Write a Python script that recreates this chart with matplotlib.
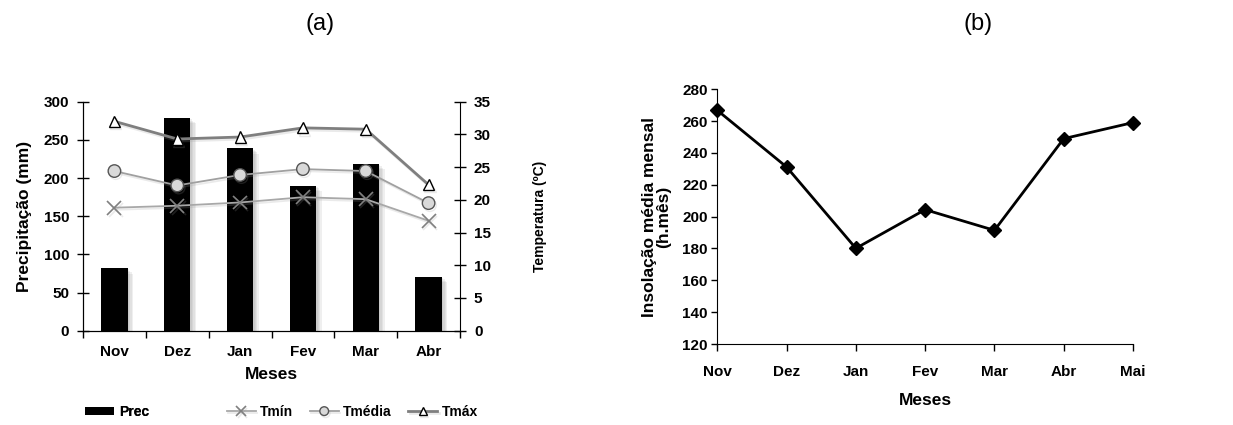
import matplotlib
matplotlib.use("Agg")
import matplotlib.pyplot as plt
import matplotlib.patheffects as pe
from matplotlib.patches import Patch
import numpy as np

plt.rcParams['font.family'] = ['Liberation Sans', 'DejaVu Sans']

# dados (a)
meses_a = ["Nov", "Dez", "Jan", "Fev", "Mar", "Abr"]
prec = [82, 279, 239, 190, 219, 71]
tmin = [18.8, 19.1, 19.6, 20.4, 20.1, 16.8]
tmedia = [24.4, 22.2, 23.8, 24.7, 24.4, 19.5]
tmax = [32.0, 29.3, 29.6, 31.0, 30.8, 22.3]

# dados (b)
meses_b = ["Nov", "Dez", "Jan", "Fev", "Mar", "Abr", "Mai"]
insolacao = [266.8, 231.2, 180.1, 204.4, 191.4, 249.0, 259.1]

W, H = 1233, 425
fig = plt.figure(figsize=(W / 100, H / 100), dpi=100)

tick_font = dict(fontsize=11, fontweight='bold')

# ---------- painel (a) ----------
ax = fig.add_axes([83 / W, 94.3 / H, 377 / W, 229 / H])
x = np.arange(len(meses_a))
# sombra suave: varias camadas deslocadas
bar_shadow = [pe.SimplePatchShadow(offset=(d, -d), shadow_rgbFace='0.5', alpha=0.12)
              for d in (4, 3, 2, 1)] + [pe.Normal()]
ax.bar(x, prec, width=0.42, color='black', zorder=2, path_effects=bar_shadow)
ax.set_xlim(-0.5, len(meses_a) - 0.5)
ax.set_ylim(0, 300)
ax.set_yticks(np.arange(0, 301, 50))
ax.set_xticks(np.arange(-0.5, len(meses_a), 1.0))
ax.set_xticklabels([])
ax.set_xticks(x, minor=True)
ax.set_xticklabels(meses_a, minor=True, **tick_font)
ax.tick_params(axis='x', which='major', direction='out', length=5, width=1)
ax.tick_params(axis='x', which='minor', length=0, pad=10)
ax.tick_params(axis='y', direction='inout', length=8, width=1, pad=6)
for lab in ax.get_yticklabels():
    lab.set_fontweight('bold')
    lab.set_fontsize(11)
ax.spines['top'].set_visible(False)
ax.spines['right'].set_visible(False)
ax.set_ylabel("Precipitação (mm)", fontsize=12.5, fontweight='bold', labelpad=8)
ax.set_xlabel("Meses", fontsize=12.5, fontweight='bold', labelpad=6)

ax2 = ax.twinx()
line_shadow = [pe.SimpleLineShadow(offset=(1, -1.5), shadow_color='0.6', alpha=0.2), pe.Normal()]
l_min, = ax2.plot(x, tmin, color='#a8a8a8', lw=1.3, marker='x', markersize=10,
                  markeredgecolor='#808080', markeredgewidth=1.2, path_effects=line_shadow)
l_med, = ax2.plot(x, tmedia, color='#a0a0a0', lw=1.3, marker='o', markersize=9,
                  markerfacecolor='#d9d9d9', markeredgecolor='#555555', path_effects=line_shadow)
l_max, = ax2.plot(x, tmax, color='#7f7f7f', lw=2, marker='^', markersize=8,
                  markerfacecolor='white', markeredgecolor='black', path_effects=line_shadow)
ax2.set_ylim(0, 35)
ax2.set_yticks(np.arange(0, 36, 5))
ax2.tick_params(axis='y', direction='inout', length=8, width=1, pad=6)
for lab in ax2.get_yticklabels():
    lab.set_fontweight('bold')
    lab.set_fontsize(11)
ax2.spines['top'].set_visible(False)
ax2.set_ylabel("Temperatura (ºC)", fontsize=10, fontweight='bold', labelpad=30)

fig.text(320 / W, 1 - 24 / H, "(a)", fontsize=17, ha='center', va='center')

leg1 = fig.legend([Patch(facecolor='black')], ["Prec"], loc='center left',
                  bbox_to_anchor=(72 / W, 1 - 412 / H), frameon=False,
                  handlelength=2.1, handleheight=0.5, handletextpad=0.4,
                  prop=dict(weight='bold', size=10))
fig.legend([l_min, l_med, l_max], ["Tmín", "Tmédia", "Tmáx"], loc='center left',
           bbox_to_anchor=(214 / W, 1 - 412 / H), frameon=False, ncol=3,
           handlelength=2.1, columnspacing=1.2, handletextpad=0.3, markerscale=0.7,
           prop=dict(weight='bold', size=10))
fig.add_artist(leg1)

# ---------- painel (b) ----------
bx = fig.add_axes([717.3 / W, 81 / H, 415.7 / W, 254.7 / H])
xb = np.arange(len(meses_b))
bx.plot(xb, insolacao, color='black', lw=2, marker='D', markersize=7, clip_on=False)
bx.set_xlim(0, len(meses_b) - 1)
bx.set_ylim(120, 280)
bx.set_yticks(np.arange(120, 281, 20))
bx.set_xticks(xb)
bx.set_xticklabels(meses_b, **tick_font)
for lab in bx.get_yticklabels():
    lab.set_fontweight('bold')
    lab.set_fontsize(11)
bx.tick_params(axis='x', direction='out', length=5, width=1, pad=10)
bx.tick_params(axis='y', direction='out', length=4, width=1, pad=3)
bx.spines['top'].set_visible(False)
bx.spines['right'].set_visible(False)
bx.set_ylabel("Insolação média mensal\n(h.mês)", fontsize=12.5, fontweight='bold',
              linespacing=0.95)
bx.yaxis.set_label_coords(-0.11, 0.5)
bx.set_xlabel("Meses", fontsize=12.5, fontweight='bold', labelpad=10)

fig.text(978 / W, 1 - 24 / H, "(b)", fontsize=17, ha='center', va='center')

fig.savefig("out.png", dpi=100)
